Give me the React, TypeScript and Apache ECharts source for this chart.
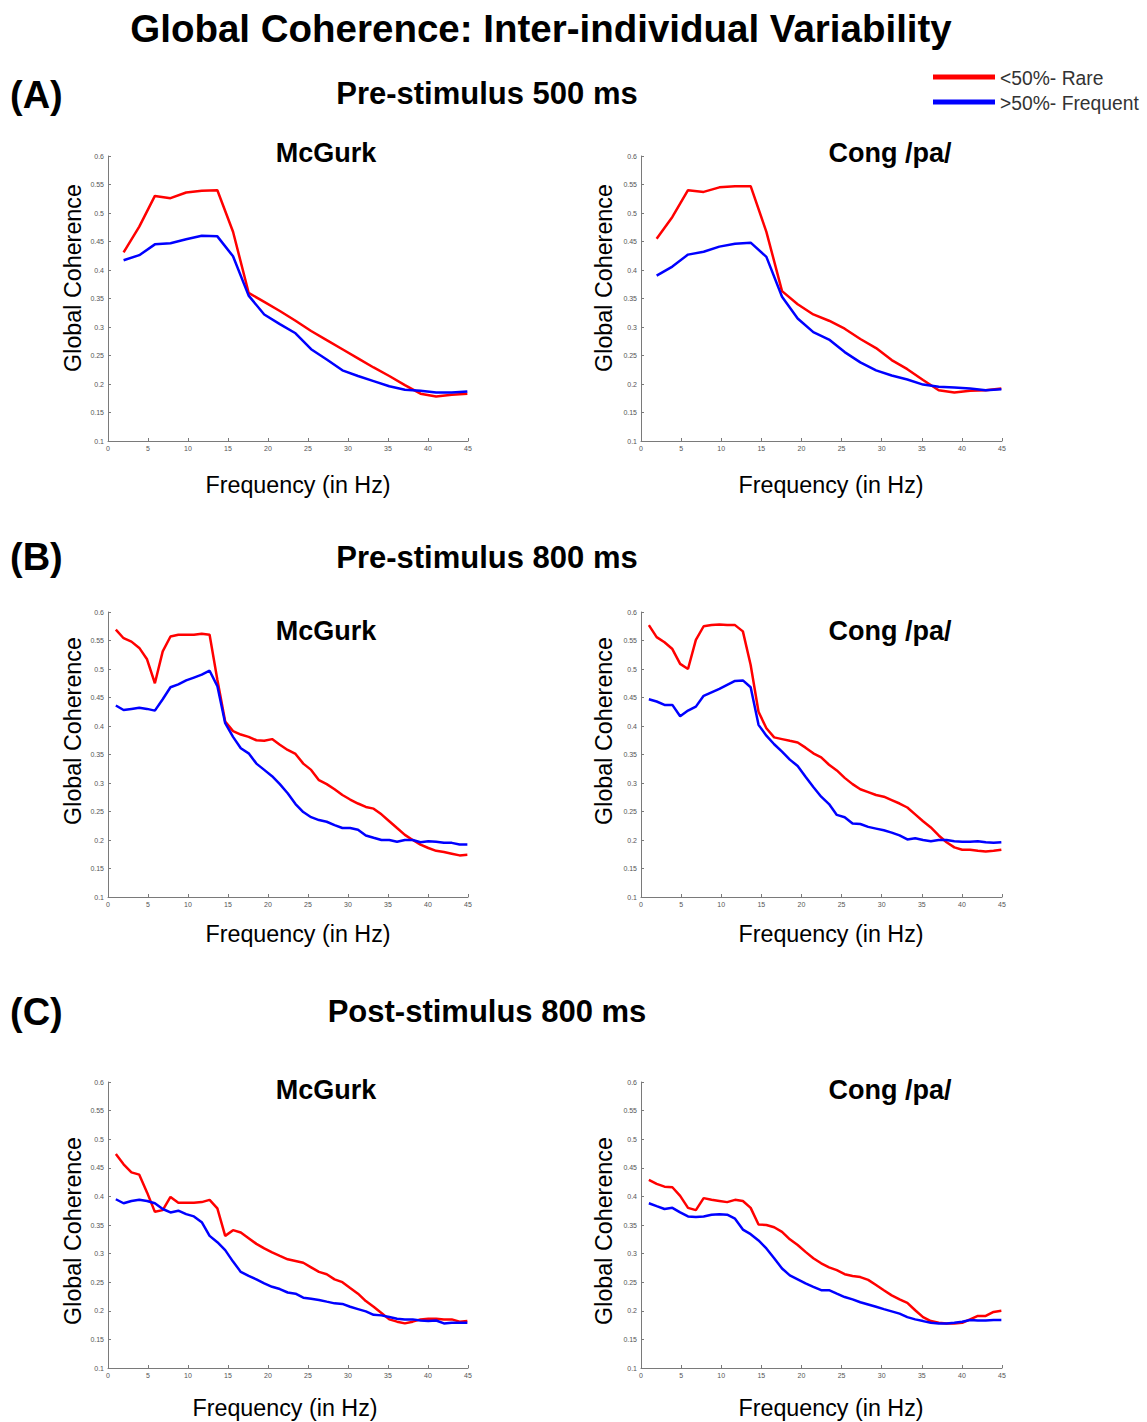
import React, { useEffect, useRef } from "react";
import * as echarts from "echarts";

// Frequency bins (Hz)
const freq500 = [1.95, 3.91, 5.86, 7.81, 9.77, 11.72, 13.67, 15.63, 17.58, 19.53, 21.48, 23.44, 25.39, 27.34, 29.3, 31.25, 33.2, 35.16, 37.11, 39.06, 41.02, 42.97, 44.92];
const freq800 = [0.98, 1.95, 2.93, 3.91, 4.88, 5.86, 6.84, 7.81, 8.79, 9.77, 10.74, 11.72, 12.7, 13.67, 14.65, 15.63, 16.6, 17.58, 18.55, 19.53, 20.51, 21.48, 22.46, 23.44, 24.41, 25.39, 26.37, 27.34, 28.32, 29.3, 30.27, 31.25, 32.23, 33.2, 34.18, 35.16, 36.13, 37.11, 38.09, 39.06, 40.04, 41.02, 41.99, 42.97, 43.95, 44.92];

// (A) Pre-stimulus 500 ms
const pre500McGurkRare = [0.431, 0.476, 0.53, 0.526, 0.536, 0.539, 0.54, 0.467, 0.36, 0.344, 0.328, 0.311, 0.293, 0.277, 0.261, 0.245, 0.229, 0.214, 0.198, 0.183, 0.178, 0.181, 0.183];
const pre500McGurkFreq = [0.417, 0.426, 0.445, 0.447, 0.454, 0.46, 0.459, 0.424, 0.355, 0.322, 0.305, 0.289, 0.261, 0.243, 0.224, 0.214, 0.205, 0.196, 0.19, 0.188, 0.185, 0.185, 0.187];
const pre500CongRare = [0.455, 0.493, 0.54, 0.537, 0.545, 0.547, 0.547, 0.467, 0.363, 0.34, 0.322, 0.311, 0.297, 0.279, 0.263, 0.242, 0.226, 0.207, 0.189, 0.185, 0.188, 0.189, 0.192];
const pre500CongFreq = [0.39, 0.406, 0.427, 0.432, 0.441, 0.446, 0.448, 0.423, 0.353, 0.315, 0.291, 0.278, 0.256, 0.238, 0.224, 0.215, 0.208, 0.199, 0.195, 0.194, 0.192, 0.189, 0.191];

// (B) Pre-stimulus 800 ms
const pre800McGurkRare = [0.569, 0.554, 0.548, 0.537, 0.517, 0.475, 0.531, 0.557, 0.56, 0.56, 0.56, 0.562, 0.56, 0.481, 0.408, 0.391, 0.385, 0.381, 0.375, 0.374, 0.377, 0.367, 0.358, 0.351, 0.334, 0.323, 0.305, 0.298, 0.289, 0.279, 0.271, 0.264, 0.258, 0.255, 0.245, 0.233, 0.221, 0.209, 0.2, 0.192, 0.186, 0.181, 0.179, 0.176, 0.173, 0.174];
const pre800McGurkFreq = [0.436, 0.428, 0.43, 0.432, 0.43, 0.427, 0.447, 0.468, 0.473, 0.48, 0.485, 0.49, 0.497, 0.47, 0.405, 0.381, 0.361, 0.352, 0.334, 0.323, 0.312, 0.298, 0.282, 0.263, 0.249, 0.24, 0.235, 0.232, 0.226, 0.221, 0.221, 0.218, 0.208, 0.204, 0.2, 0.2, 0.197, 0.2, 0.2, 0.196, 0.198, 0.197, 0.195, 0.195, 0.192, 0.192];
const pre800CongRare = [0.577, 0.556, 0.547, 0.535, 0.509, 0.5, 0.551, 0.575, 0.577, 0.578, 0.577, 0.577, 0.566, 0.507, 0.425, 0.396, 0.38, 0.377, 0.374, 0.371, 0.362, 0.352, 0.345, 0.332, 0.322, 0.309, 0.298, 0.289, 0.284, 0.279, 0.276, 0.27, 0.264, 0.257, 0.245, 0.233, 0.222, 0.208, 0.196, 0.187, 0.183, 0.183, 0.181, 0.18, 0.181, 0.183];
const pre800CongFreq = [0.447, 0.443, 0.437, 0.437, 0.417, 0.427, 0.434, 0.453, 0.459, 0.465, 0.472, 0.479, 0.48, 0.468, 0.402, 0.383, 0.368, 0.355, 0.341, 0.33, 0.311, 0.293, 0.276, 0.263, 0.244, 0.24, 0.229, 0.228, 0.223, 0.22, 0.217, 0.213, 0.208, 0.201, 0.203, 0.2, 0.198, 0.2, 0.2, 0.198, 0.197, 0.197, 0.198, 0.196, 0.195, 0.196];

// (C) Post-stimulus 800 ms
const post800McGurkRare = [0.474, 0.456, 0.442, 0.438, 0.407, 0.373, 0.376, 0.399, 0.389, 0.389, 0.389, 0.39, 0.394, 0.379, 0.331, 0.341, 0.337, 0.327, 0.317, 0.309, 0.302, 0.296, 0.29, 0.287, 0.284, 0.276, 0.268, 0.264, 0.255, 0.25, 0.24, 0.23, 0.217, 0.207, 0.196, 0.185, 0.181, 0.178, 0.181, 0.185, 0.186, 0.186, 0.185, 0.185, 0.181, 0.182];
const post800McGurkFreq = [0.395, 0.388, 0.392, 0.394, 0.392, 0.388, 0.378, 0.372, 0.375, 0.369, 0.365, 0.355, 0.331, 0.32, 0.306, 0.286, 0.268, 0.261, 0.255, 0.248, 0.242, 0.238, 0.232, 0.23, 0.223, 0.221, 0.219, 0.216, 0.213, 0.212, 0.207, 0.203, 0.199, 0.193, 0.192, 0.189, 0.186, 0.185, 0.185, 0.183, 0.182, 0.183, 0.178, 0.179, 0.179, 0.179];
const post800CongRare = [0.429, 0.422, 0.417, 0.416, 0.401, 0.38, 0.376, 0.397, 0.394, 0.392, 0.39, 0.394, 0.392, 0.38, 0.351, 0.35, 0.346, 0.338, 0.325, 0.315, 0.303, 0.292, 0.283, 0.276, 0.271, 0.264, 0.261, 0.259, 0.254, 0.245, 0.236, 0.227, 0.22, 0.214, 0.201, 0.189, 0.182, 0.179, 0.178, 0.178, 0.179, 0.185, 0.191, 0.191, 0.198, 0.2];
const post800CongFreq = [0.388, 0.383, 0.378, 0.38, 0.372, 0.365, 0.364, 0.365, 0.368, 0.369, 0.368, 0.361, 0.342, 0.334, 0.323, 0.309, 0.292, 0.274, 0.262, 0.255, 0.248, 0.242, 0.236, 0.236, 0.23, 0.224, 0.22, 0.215, 0.211, 0.207, 0.203, 0.199, 0.195, 0.189, 0.185, 0.182, 0.179, 0.178, 0.178, 0.179, 0.181, 0.184, 0.183, 0.183, 0.184, 0.184];

// Axis ticks
const yMin = 0.1;
const yMax = 0.6;
const yStep = 0.05;
const xMin = 0;
const xMax = 45;
const xStep = 5;

const RARE = "<50%- Rare";
const FREQUENT = ">50%- Frequent";
const FONT = "'Liberation Sans', Arial, Helvetica, sans-serif";

const panels = [
  { freq: freq500, rare: pre500McGurkRare, frequent: pre500McGurkFreq, left: 108, top: 156, width: 360, height: 285 },
  { freq: freq500, rare: pre500CongRare, frequent: pre500CongFreq, left: 641, top: 156, width: 361, height: 285 },
  { freq: freq800, rare: pre800McGurkRare, frequent: pre800McGurkFreq, left: 108, top: 612, width: 360, height: 285 },
  { freq: freq800, rare: pre800CongRare, frequent: pre800CongFreq, left: 641, top: 612, width: 361, height: 285 },
  { freq: freq800, rare: post800McGurkRare, frequent: post800McGurkFreq, left: 108, top: 1082, width: 360, height: 286 },
  { freq: freq800, rare: post800CongRare, frequent: post800CongFreq, left: 641, top: 1082, width: 361, height: 286 },
];

const axisColor = "#7a7a7a";

function txt(text: string, x: number, y: number, size: number, opts: any = {}) {
  return {
    type: "text",
    x,
    y,
    rotation: opts.rotation || 0,
    style: {
      text,
      fontSize: size,
      fontWeight: opts.bold ? "bold" : "normal",
      fontFamily: FONT,
      fill: opts.color || "#000",
      align: opts.align || "center",
      verticalAlign: "middle",
    },
  };
}

export default function App() {
  const ref = useRef<HTMLDivElement>(null);
  useEffect(() => {
    const chart = echarts.init(ref.current!, null, { renderer: "svg" });
    const grid = panels.map((p) => ({ left: p.left, top: p.top, width: p.width, height: p.height, containLabel: false }));
    const xAxis = panels.map((_, i) => ({
      type: "value",
      gridIndex: i,
      min: xMin,
      max: xMax,
      interval: xStep,
      axisLine: { show: true, lineStyle: { color: axisColor, width: 1 } },
      axisTick: { show: true, inside: true, length: 3, lineStyle: { color: axisColor } },
      axisLabel: { fontSize: 7, color: "#555", margin: 4, fontFamily: FONT },
      splitLine: { show: false },
    }));
    const yAxis = panels.map((_, i) => ({
      type: "value",
      gridIndex: i,
      min: yMin,
      max: yMax,
      interval: yStep,
      axisLine: { show: true, lineStyle: { color: axisColor, width: 1 } },
      axisTick: { show: true, inside: true, length: 3, lineStyle: { color: axisColor } },
      axisLabel: { fontSize: 7, color: "#555", margin: 4, fontFamily: FONT },
      splitLine: { show: false },
    }));
    const series: any[] = [];
    panels.forEach((p, i) => {
      series.push({
        type: "line",
        name: RARE,
        xAxisIndex: i,
        yAxisIndex: i,
        showSymbol: false,
        lineStyle: { color: "#ff0000", width: 2.5 },
        itemStyle: { color: "#ff0000" },
        data: p.freq.map((f, j) => [f, p.rare[j]]),
      });
      series.push({
        type: "line",
        name: FREQUENT,
        xAxisIndex: i,
        yAxisIndex: i,
        showSymbol: false,
        lineStyle: { color: "#0000ff", width: 2.5 },
        itemStyle: { color: "#0000ff" },
        data: p.freq.map((f, j) => [f, p.frequent[j]]),
      });
    });

    const graphic: any[] = [
      txt("Global Coherence: Inter-individual Variability", 541, 28, 38.5, { bold: true }),
      txt("(A)", 10, 95, 38, { bold: true, align: "left" }),
      txt("(B)", 10, 557, 38, { bold: true, align: "left" }),
      txt("(C)", 10, 1012, 38, { bold: true, align: "left" }),
      txt("Pre-stimulus 500 ms", 487, 93, 31, { bold: true }),
      txt("Pre-stimulus 800 ms", 487, 557, 31, { bold: true }),
      txt("Post-stimulus 800 ms", 487, 1011, 31, { bold: true }),
      txt("McGurk", 326, 153, 27, { bold: true }),
      txt("Cong /pa/", 890, 153, 27, { bold: true }),
      txt("McGurk", 326, 631, 27, { bold: true }),
      txt("Cong /pa/", 890, 631, 27, { bold: true }),
      txt("McGurk", 326, 1090, 27, { bold: true }),
      txt("Cong /pa/", 890, 1090, 27, { bold: true }),
      txt("Global Coherence", 73, 278, 23.3, { rotation: Math.PI / 2 }),
      txt("Global Coherence", 604, 278, 23.3, { rotation: Math.PI / 2 }),
      txt("Global Coherence", 73, 731, 23.3, { rotation: Math.PI / 2 }),
      txt("Global Coherence", 604, 731, 23.3, { rotation: Math.PI / 2 }),
      txt("Global Coherence", 73, 1231, 23.3, { rotation: Math.PI / 2 }),
      txt("Global Coherence", 604, 1231, 23.3, { rotation: Math.PI / 2 }),
      txt("Frequency (in Hz)", 298, 485, 23.3),
      txt("Frequency (in Hz)", 831, 485, 23.3),
      txt("Frequency (in Hz)", 298, 934, 23.3),
      txt("Frequency (in Hz)", 831, 934, 23.3),
      txt("Frequency (in Hz)", 285, 1408, 23.3),
      txt("Frequency (in Hz)", 831, 1408, 23.3),
      { type: "line", shape: { x1: 933, y1: 77, x2: 995, y2: 77 }, style: { stroke: "#ff0000", lineWidth: 5 } },
      { type: "line", shape: { x1: 933, y1: 102, x2: 995, y2: 102 }, style: { stroke: "#0000ff", lineWidth: 5 } },
      txt(RARE, 1000, 78, 19.3, { align: "left", color: "#333" }),
      txt(FREQUENT, 1000, 103, 19.3, { align: "left", color: "#333" }),
    ];

    chart.setOption({
      animation: false,
      backgroundColor: "#ffffff",
      grid,
      xAxis,
      yAxis,
      series,
      graphic,
    });
    return () => chart.dispose();
  }, []);
  return <div ref={ref} style={{ position: "absolute", left: 0, top: 0, width: 1147, height: 1422 }} />;
}
